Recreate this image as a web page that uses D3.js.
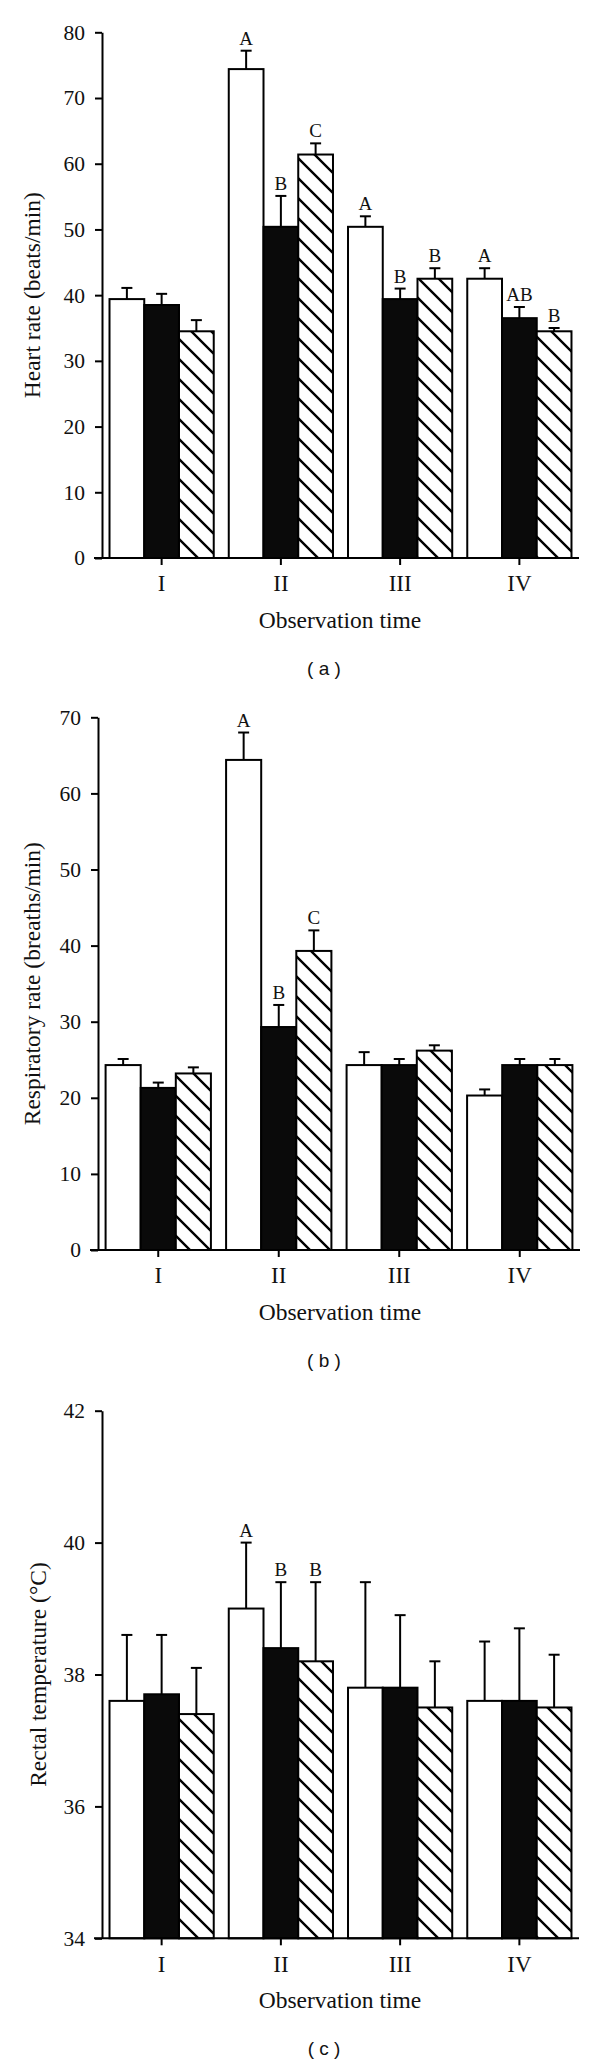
<!DOCTYPE html>
<html><head><meta charset="utf-8">
<script src="https://cdn.jsdelivr.net/npm/d3@7"></script>
<style>body{margin:0;background:#fff}</style>
</head><body><svg id="chart" width="600" height="2067"></svg>
<script>
// ---------- data ----------
const categories = ["I", "II", "III", "IV"];
const seriesKeys = ["open", "solid", "hatched"];

// (a) Heart rate (beats/min): mean and upper error (SE)
const heartOpen      = [39.4, 74.4, 50.4, 42.5];
const heartOpenErr   = [1.7, 2.8, 1.6, 1.6];
const heartSolid     = [38.5, 50.4, 39.4, 36.5];
const heartSolidErr  = [1.7, 4.7, 1.6, 1.7];
const heartHatch     = [34.5, 61.4, 42.5, 34.5];
const heartHatchErr  = [1.7, 1.7, 1.6, 0.5];
const heartOpenLbl   = ["", "A", "A", "A"];
const heartSolidLbl  = ["", "B", "B", "AB"];
const heartHatchLbl  = ["", "C", "B", "B"];
const heartTicks     = [0, 10, 20, 30, 40, 50, 60, 70, 80];

// (b) Respiratory rate (breaths/min)
const respOpen       = [24.3, 64.4, 24.3, 20.3];
const respOpenErr    = [0.8, 3.6, 1.7, 0.8];
const respSolid      = [21.3, 29.3, 24.3, 24.3];
const respSolidErr   = [0.7, 2.9, 0.8, 0.8];
const respHatch      = [23.2, 39.3, 26.2, 24.3];
const respHatchErr   = [0.8, 2.7, 0.7, 0.8];
const respOpenLbl    = ["", "A", "", ""];
const respSolidLbl   = ["", "B", "", ""];
const respHatchLbl   = ["", "C", "", ""];
const respTicks      = [0, 10, 20, 30, 40, 50, 60, 70];

// (c) Rectal temperature (°C)
const tempOpen       = [37.6, 39.0, 37.8, 37.6];
const tempOpenErr    = [1.0, 1.0, 1.6, 0.9];
const tempSolid      = [37.7, 38.4, 37.8, 37.6];
const tempSolidErr   = [0.9, 1.0, 1.1, 1.1];
const tempHatch      = [37.4, 38.2, 37.5, 37.5];
const tempHatchErr   = [0.7, 1.2, 0.7, 0.8];
const tempOpenLbl    = ["", "A", "", ""];
const tempSolidLbl   = ["", "B", "", ""];
const tempHatchLbl   = ["", "B", "", ""];
const tempTicks      = [34, 36, 38, 40, 42];

// ---------- drawing ----------
const svg = d3.select("#chart");
const SERIF = "'Liberation Serif','DejaVu Serif',serif";
const defs = svg.append("defs");
const pat = defs.append("pattern").attr("id", "hatch")
  .attr("patternUnits", "userSpaceOnUse").attr("width", 20).attr("height", 20);
pat.append("rect").attr("width", 20).attr("height", 20).attr("fill", "#fff");
pat.append("path").attr("d", "M0,0L20,20M-10,10L10,30M10,-10L30,10")
  .attr("stroke", "#000").attr("stroke-width", 2.4);

function fillFor(k) { return k === "open" ? "#fff" : k === "solid" ? "#0a0a0a" : "url(#hatch)"; }

function panel(cfg) {
  const g = svg.append("g");
  const x = d3.scaleBand().domain(categories).range([cfg.left, cfg.right])
    .paddingInner(0.126).paddingOuter(0.063);
  const xi = d3.scaleBand().domain(seriesKeys).range([0, x.bandwidth()]);
  const y = d3.scaleLinear().domain([cfg.ticks[0], cfg.ticks[cfg.ticks.length - 1]])
    .range([cfg.bottom, cfg.top]);
  const base = cfg.ticks[0];

  const rows = [];
  seriesKeys.forEach((k, si) => {
    categories.forEach((c, ci) => {
      rows.push({ k, c, v: cfg.means[si][ci], e: cfg.errs[si][ci], l: cfg.letters[si][ci] });
    });
  });

  // error bars
  const eb = g.append("g").attr("stroke", "#000").attr("stroke-width", 2).attr("fill", "none");
  rows.forEach(d => {
    const cx = x(d.c) + xi(d.k) + xi.bandwidth() / 2;
    eb.append("line").attr("x1", cx).attr("x2", cx).attr("y1", y(d.v)).attr("y2", y(d.v + d.e));
    eb.append("line").attr("x1", cx - 5.5).attr("x2", cx + 5.5).attr("y1", y(d.v + d.e)).attr("y2", y(d.v + d.e));
  });

  // bars
  g.append("g").selectAll("rect").data(rows).join("rect")
    .attr("x", d => x(d.c) + xi(d.k))
    .attr("y", d => y(d.v))
    .attr("width", xi.bandwidth())
    .attr("height", d => y(base) - y(d.v))
    .attr("fill", d => fillFor(d.k))
    .attr("stroke", "#000").attr("stroke-width", 2);

  // significance letters
  g.append("g").selectAll("text").data(rows.filter(d => d.l)).join("text")
    .attr("x", d => x(d.c) + xi(d.k) + xi.bandwidth() / 2)
    .attr("y", d => y(d.v + d.e) - 6)
    .attr("text-anchor", "middle")
    .attr("font-family", SERIF).attr("font-size", 19).attr("fill", "#111")
    .text(d => d.l);

  // y axis
  const ya = g.append("g").attr("transform", `translate(${cfg.left},0)`)
    .call(d3.axisLeft(y).tickValues(cfg.ticks).tickSize(7).tickSizeOuter(0).tickPadding(10));
  ya.select(".domain").attr("stroke", "#000").attr("stroke-width", 2);
  ya.selectAll(".tick line").attr("stroke", "#000").attr("stroke-width", 2);
  ya.selectAll(".tick text").attr("font-family", SERIF).attr("font-size", 21.5).attr("fill", "#111");

  // x axis
  const xa = g.append("g").attr("transform", `translate(0,${cfg.bottom})`)
    .call(d3.axisBottom(x).tickSize(7).tickSizeOuter(0).tickPadding(10));
  xa.select(".domain").remove();
  xa.append("line").attr("x1", cfg.left - 8).attr("x2", cfg.right)
    .attr("y1", 0).attr("y2", 0).attr("stroke", "#000").attr("stroke-width", 2);
  xa.selectAll(".tick line").attr("stroke", "#000").attr("stroke-width", 2);
  xa.selectAll(".tick text").attr("font-family", SERIF).attr("font-size", 23).attr("fill", "#111");

  // titles
  g.append("text").attr("x", 340).attr("y", cfg.bottom + 70)
    .attr("text-anchor", "middle").attr("font-family", SERIF).attr("font-size", 23.5).attr("fill", "#111")
    .text("Observation time");
  g.append("text")
    .attr("transform", `translate(${cfg.ylabX},${(cfg.top + cfg.bottom) / 2}) rotate(-90)`)
    .attr("text-anchor", "middle").attr("font-family", SERIF).attr("font-size", 23.5).attr("fill", "#111")
    .text(cfg.ylabel);
  g.append("text").attr("x", 324).attr("y", cfg.bottom + 117)
    .attr("text-anchor", "middle").attr("font-family", "'Liberation Sans',Arial,sans-serif")
    .attr("font-size", 19).attr("fill", "#111")
    .style("white-space", "pre")
    .text(cfg.tag);
}

panel({
  left: 102, right: 579, top: 32.3, bottom: 558, ylabX: 40, ticks: heartTicks,
  means: [heartOpen, heartSolid, heartHatch], errs: [heartOpenErr, heartSolidErr, heartHatchErr],
  letters: [heartOpenLbl, heartSolidLbl, heartHatchLbl],
  ylabel: "Heart rate (beats/min)", tag: "( a )"
});
panel({
  left: 98, right: 580, top: 717.3, bottom: 1250, ylabX: 40, ticks: respTicks,
  means: [respOpen, respSolid, respHatch], errs: [respOpenErr, respSolidErr, respHatchErr],
  letters: [respOpenLbl, respSolidLbl, respHatchLbl],
  ylabel: "Respiratory rate (breaths/min)", tag: "( b )"
});
panel({
  left: 102, right: 579, top: 1410.7, bottom: 1938.3, ylabX: 46, ticks: tempTicks,
  means: [tempOpen, tempSolid, tempHatch], errs: [tempOpenErr, tempSolidErr, tempHatchErr],
  letters: [tempOpenLbl, tempSolidLbl, tempHatchLbl],
  ylabel: "Rectal temperature (°C)", tag: "( c )"
});
</script>
</body></html>
